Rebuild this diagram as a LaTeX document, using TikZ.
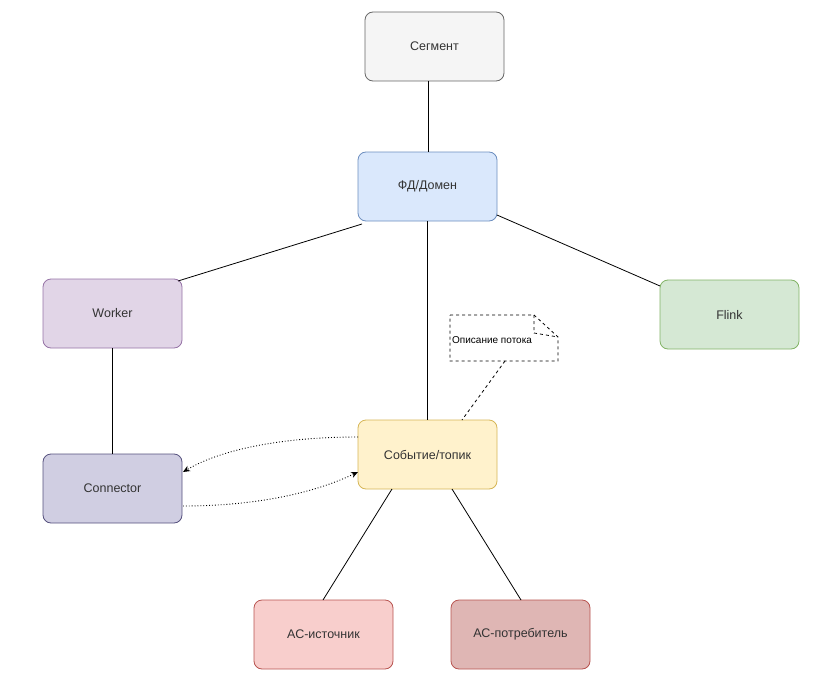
\documentclass[tikz,border=0pt]{standalone}
\usepackage{fontspec}
\setmainfont{Liberation Sans}
\usetikzlibrary{arrows.meta,calc}
\begin{document}
\begin{tikzpicture}[x=1pt,y=-1pt,
 box/.style={draw,rounded corners=8pt,minimum width=139pt,minimum height=69pt,font=\fontsize{12.5}{14}\selectfont,text=black!80,line width=0.8pt},
 ln/.style={line width=0.8pt},
 dot/.style={dotted,line width=0.9pt,-{Stealth[length=7pt,width=6pt]}}]
\useasboundingbox (0,0) rectangle (838,685);
\definecolor{c1}{HTML}{F5F5F5}\definecolor{s1}{HTML}{666666}
\definecolor{c2}{HTML}{DAE8FC}\definecolor{s2}{HTML}{6C8EBF}
\definecolor{c3}{HTML}{E1D5E7}\definecolor{s3}{HTML}{9673A6}
\definecolor{c4}{HTML}{D5E8D4}\definecolor{s4}{HTML}{82B366}
\definecolor{c5}{HTML}{FFF2CC}\definecolor{s5}{HTML}{D6B656}
\definecolor{c6}{HTML}{D0CEE2}\definecolor{s6}{HTML}{56517E}
\definecolor{c7}{HTML}{F8CECC}\definecolor{s7}{HTML}{B85450}
\definecolor{c8}{HTML}{DFB6B4}\definecolor{s8}{HTML}{B85450}
\node[box,fill=c1,draw=s1] (seg) at (434.5,46.5) {Сегмент};
\node[box,fill=c2,draw=s2] (fd) at (427.5,186.5) {ФД/Домен};
\node[box,fill=c3,draw=s3] (wk) at (112.5,313.5) {Worker};
\node[box,fill=c4,draw=s4] (fl) at (729.5,314.5) {Flink};
\node[box,fill=c5,draw=s5] (ev) at (427.5,454.5) {Событие/топик};
\node[box,fill=c6,draw=s6] (cn) at (112.5,488.5) {Connector};
\node[box,fill=c7,draw=s7] (src) at (323.5,634.5) {АС-источник};
\node[box,fill=c8,draw=s8] (dst) at (520.5,634.5) {АС-потребитель};
% note
\draw[dashed,line width=0.8pt,fill=white] (450,315) -- (534,315) -- (558,337) -- (558,361) -- (450,361) -- cycle;
\draw[dashed,line width=0.8pt] (534,315) -- (534,333) -- (558,337);
\node[anchor=west,inner sep=0pt,font=\fontsize{10}{12}\selectfont] (note) at (452,340) {Описание потока};
\coordinate (nb) at (505,361);
\coordinate (ne) at (462,420);
\draw[dashed,line width=0.8pt] (nb) -- (ne);
\coordinate (sa) at (428,81);
\coordinate (sb) at (428,152);
\draw[ln] (sa) -- (sb);
\draw[ln] (fd.south) -- (ev.north);
\coordinate (w1) at (362,224);
\coordinate (w2) at (178,281);
\draw[ln] (w1) -- (w2);
\coordinate (f1) at (497,215);
\coordinate (f2) at (660,286);
\draw[ln] (f1) -- (f2);
\draw[ln] (wk) -- (cn);
\coordinate (a1) at (392,489);
\coordinate (a2) at (323,600);
\draw[ln] (a1) -- (a2);
\coordinate (b1) at (452,489);
\coordinate (b2) at (521,600);
\draw[ln] (b1) -- (b2);
\coordinate (d1) at (358,437);
\coordinate (d2) at (183,472);
\coordinate (d3) at (183,506);
\coordinate (d4) at (358,472);
\draw[dot] (d1) .. controls (280,437) and (220,450) .. (d2);
\draw[dot] (d3) .. controls (250,506) and (310,495) .. (d4);
\end{tikzpicture}
\end{document}
